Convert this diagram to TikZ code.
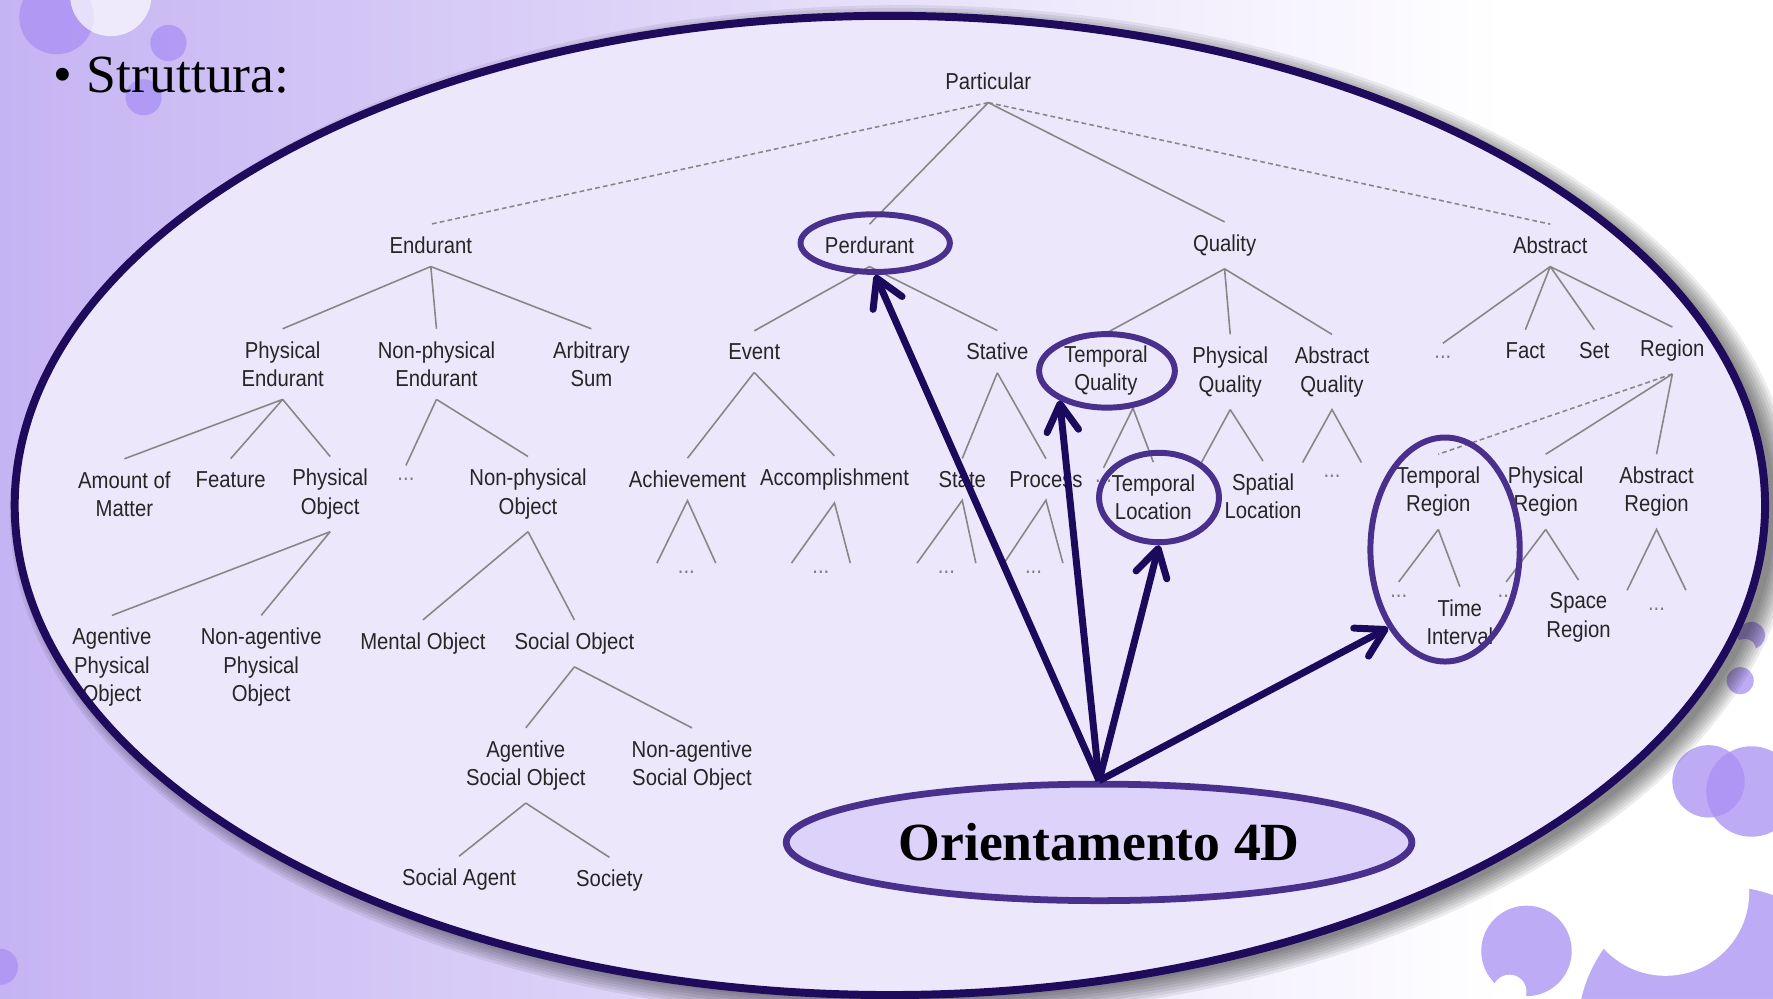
\documentclass[tikz,border=0pt]{standalone}
\usepackage{fontspec}
\setmainfont{Liberation Serif}
\newfontfamily\treefont[FakeStretch=0.88]{Liberation Sans}
\usetikzlibrary{shapes,arrows.meta}

\definecolor{bgleft}{RGB}{197,180,243}
\definecolor{bgmid}{RGB}{220,211,248}
\definecolor{fieldfill}{RGB}{237,231,252}
\definecolor{rimcol}{RGB}{30,11,92}
\definecolor{ringcol}{RGB}{72,48,140}
\definecolor{pointcol}{RGB}{27,10,92}
\definecolor{orientfill}{RGB}{220,210,250}
\definecolor{deco}{RGB}{168,144,244}
\definecolor{inkgrey}{RGB}{38,38,38}
\definecolor{edgegrey}{RGB}{135,135,135}

\tikzset{
concept/.style={font=\treefont\fontsize{5.8}{7.1}\selectfont, text=inkgrey,
	align=center, inner sep=3pt},
etc/.style={concept, text=inkgrey!60},
link/.style={draw=edgegrey, line width=0.4pt},
weaklink/.style={link, dash pattern=on 1.2pt off 0.8pt},
hilite/.style={draw=ringcol, line width=1.5pt, ellipse},
pointer/.style={draw=pointcol, line width=1.75pt,
	-{Straight Barb[length=2.4mm,width=2.8mm,round]}},
bubble/.style={fill=deco, opacity=0.75}
}
% open triangle over a "..." child
\newcommand{\fan}[3][-8]{\draw[link] ([shift={(-26,#1)}]#3.center) -- (#2.south) -- ([shift={(26,#1)}]#3.center);}

\begin{document}
\begin{tikzpicture}[x=0.01cm, y=-0.01cm]
	\useasboundingbox (0,0) rectangle (1568,883);
	\fill[white] (0,0) rectangle (1568,883);
	\shade[left color=bgleft, middle color=bgmid, right color=white] (0,0) rectangle (1330,883);

	% bubbles
	\fill[bubble] (50,15) circle (33);
	\fill[white, opacity=0.7] (98,-4) circle (36);
	\fill[bubble] (149,38) circle (16);
	\fill[bubble] (127,86) circle (16);
	\fill[bubble] (0,855) circle (16);
	\fill[bubble] (1524,913) circle (129);
	\fill[white] (1473,789) circle (74);
	\fill[bubble] (1350,841) circle (40);
	\fill[white] (1335,877) circle (15);
	\fill[bubble] (1511,691) circle (32);
	\fill[bubble] (1549,700) circle (40);
	\fill[bubble] (1549,562) circle (12);
	\fill[white] (1543,575) circle (10);
	\fill[bubble] (1539,602) circle (12);

	% shadow and field
	\foreach \k in {0,...,7}
		\fill[black, opacity=0.07] (798,453) ellipse ({772+2.5*\k} and {431+2.5*\k});
	\fill[fieldfill] (787,447) ellipse (774 and 433);

	\begin{scope}
	\clip (787,447) ellipse (774 and 433);
	\node[concept] (particular) at (874,72) {Particular};
	\node[concept] (endurant) at (381,217) {Endurant};
	\node[concept] (perdurant) at (769,217) {Perdurant};
	\node[concept] (quality) at (1083,217) {Quality};
	\node[concept] (abstract) at (1371,217) {Abstract};
	\draw[weaklink] (particular.south) -- (endurant.north);
	\draw[link] (particular.south) -- (perdurant.north);
	\draw[link] (particular.south) -- (quality.north);
	\draw[weaklink] (particular.south) -- (abstract.north);

	\node[concept] (physend) at (250,322) {Physical\\Endurant};
	\node[concept] (nonphysend) at (386,322) {Non-physical\\Endurant};
	\node[concept] (arbsum) at (523,322) {Arbitrary\\Sum};
	\node[concept] (event) at (667,311) {Event};
	\node[concept] (stative) at (882,311) {Stative};
	\node[concept] (tempqual) at (978,328) {Temporal\\Quality};
	\node[concept] (physqual) at (1088,329) {Physical\\Quality};
	\node[concept] (absqual) at (1178,329) {Abstract\\Quality};
	\node[etc] (absdots) at (1276,316) {...};
	\node[concept] (fact) at (1349,310) {Fact};
	\node[concept] (set) at (1410,310) {Set};
	\node[concept] (region) at (1479,310) {Region};
	\draw[link] (endurant.south) -- (physend.north) (endurant.south) -- (nonphysend.north)
		(endurant.south) -- (arbsum.north);
	\draw[link] (perdurant.south) -- (event.north) (perdurant.south) -- (stative.north);
	\draw[link] (quality.south) -- (tempqual.north) (quality.south) -- (physqual.north)
		(quality.south) -- (absqual.north);
	\draw[link] (abstract.south) -- (absdots.north) (abstract.south) -- (fact.north)
		(abstract.south) -- (set.north) (abstract.south) -- (region.north);

	\node[concept] (amount) at (110,437) {Amount of\\Matter};
	\node[concept] (feature) at (204,424) {Feature};
	\node[concept] (physobj) at (292,437) {Physical\\Object};
	\node[etc] (npedots) at (359,424) {...};
	\node[concept] (nonphysobj) at (467,437) {Non-physical\\Object};
	\node[concept] (achieve) at (608,424) {Achievement};
	\node[concept] (accomp) at (738,424) {Accomplishment};
	\node[concept] (state) at (851,424) {State};
	\node[concept] (process) at (925,424) {Process};
	\node[etc] (tqdots) at (976,426) {...};
	\node[concept] (temploc) at (1020,440) {Temporal\\Location};
	\coordinate (tqfork) at (1002,361);
	\coordinate (pqleft) at (1062,410);
	\node[concept] (spatloc) at (1117,439) {Spatial\\Location};
	\node[etc] (aqdots) at (1178,421) {...};
	\node[concept] (tempreg) at (1272,435) {Temporal\\Region};
	\node[concept] (physreg) at (1367,435) {Physical\\Region};
	\node[concept] (absreg) at (1465,435) {Abstract\\Region};
	\draw[link] (physend.south) -- (amount.north) (physend.south) -- (feature.north)
		(physend.south) -- (physobj.north);
	\draw[link] (nonphysend.south) -- (npedots.north) (nonphysend.south) -- (nonphysobj.north);
	\draw[link] (event.south) -- (achieve.north) (event.south) -- (accomp.north);
	\draw[link] (stative.south) -- (state.north) (stative.south) -- (process.north);
	\draw[link] (tqfork) -- (tqdots.north) (tqfork) -- (temploc.north);
	\draw[link] (physqual.south) -- (pqleft) (physqual.south) -- (spatloc.north);
	\fan[-12]{absqual}{aqdots}
	\draw[weaklink] (region.south) -- (tempreg.north);
	\draw[link] (region.south) -- (physreg.north) (region.south) -- (absreg.north);

	\node[etc] (achdots) at (607,506) {...};
	\node[etc] (accdots) at (726,506) {...};
	\node[etc] (statedots) at (837,506) {...};
	\node[etc] (procdots) at (914,506) {...};
	\fan{achieve}{achdots}
	\fan{accomp}{accdots}
	\fan{state}{statedots}
	\fan{process}{procdots}
	\node[concept] (agphys) at (99,590) {Agentive\\Physical\\Object};
	\node[concept] (nagphys) at (231,590) {Non-agentive\\Physical\\Object};
	\node[concept] (mental) at (374,569) {Mental Object};
	\node[concept] (social) at (508,569) {Social Object};
	\node[etc] (trdots) at (1237,527) {...};
	\node[concept] (timeint) at (1291,550) {Time\\Interval};
	\node[etc] (prdots) at (1332,527) {...};
	\node[concept] (spacereg) at (1396,546) {Space\\Region};
	\node[etc] (ardots) at (1465,539) {...};
	\draw[link] (physobj.south) -- (agphys.north) (physobj.south) -- (nagphys.north);
	\draw[link] (nonphysobj.south) -- (mental.north) (nonphysobj.south) -- (social.north);
	\draw[link] (tempreg.south) -- (trdots.north) (tempreg.south) -- (timeint.north);
	\draw[link] (physreg.south) -- (prdots.north) (physreg.south) -- (spacereg.north);
	\fan[-17]{absreg}{ardots}

	\node[concept] (agsoc) at (465,677) {Agentive\\Social Object};
	\node[concept] (nagsoc) at (612,677) {Non-agentive\\Social Object};
	\node[concept] (socagent) at (406,778) {Social Agent};
	\node[concept] (society) at (539,779) {Society};
	\draw[link] (social.south) -- (agsoc.north) (social.south) -- (nagsoc.north);
	\draw[link] (agsoc.south) -- (socagent.north) (agsoc.south) -- (society.north);

	% highlights
	\node[hilite, minimum width=1.32cm, minimum height=0.51cm] (perdring) at (774,215) {};
	\node[hilite, minimum width=1.20cm, minimum height=0.65cm] (tqring) at (979,328) {};
	\node[hilite, minimum width=1.06cm, minimum height=0.79cm] (tlring) at (1025,440) {};
	\node[hilite, minimum width=1.32cm, minimum height=1.98cm] (trring) at (1278,486) {};
	\end{scope}
	\draw[rimcol, line width=2pt] (787,447) ellipse (774 and 433);

	\node[ellipse, draw=ringcol, line width=1.7pt, fill=orientfill, inner sep=0pt,
		minimum width=5.53cm, minimum height=1.03cm,
		font=\bfseries\fontsize{13.5}{16}\selectfont] (orient) at (972,745) {Orientamento 4D};
	\draw[pointer] (orient.north) -- (perdring.south);
	\draw[pointer] (orient.north) -- (tqring.-148);
	\draw[pointer] (orient.north) -- (tlring.south);
	\draw[pointer] (orient.north) -- (trring.-126);

	\node[font=\fontsize{13.5}{16}\selectfont, inner sep=0pt] (bullet) at (56,71) {\textbullet};
	\node[font=\fontsize{13.5}{16}\selectfont, inner sep=0pt, anchor=base west] (title) at (76,82) {Struttura:};
\end{tikzpicture}
\end{document}
